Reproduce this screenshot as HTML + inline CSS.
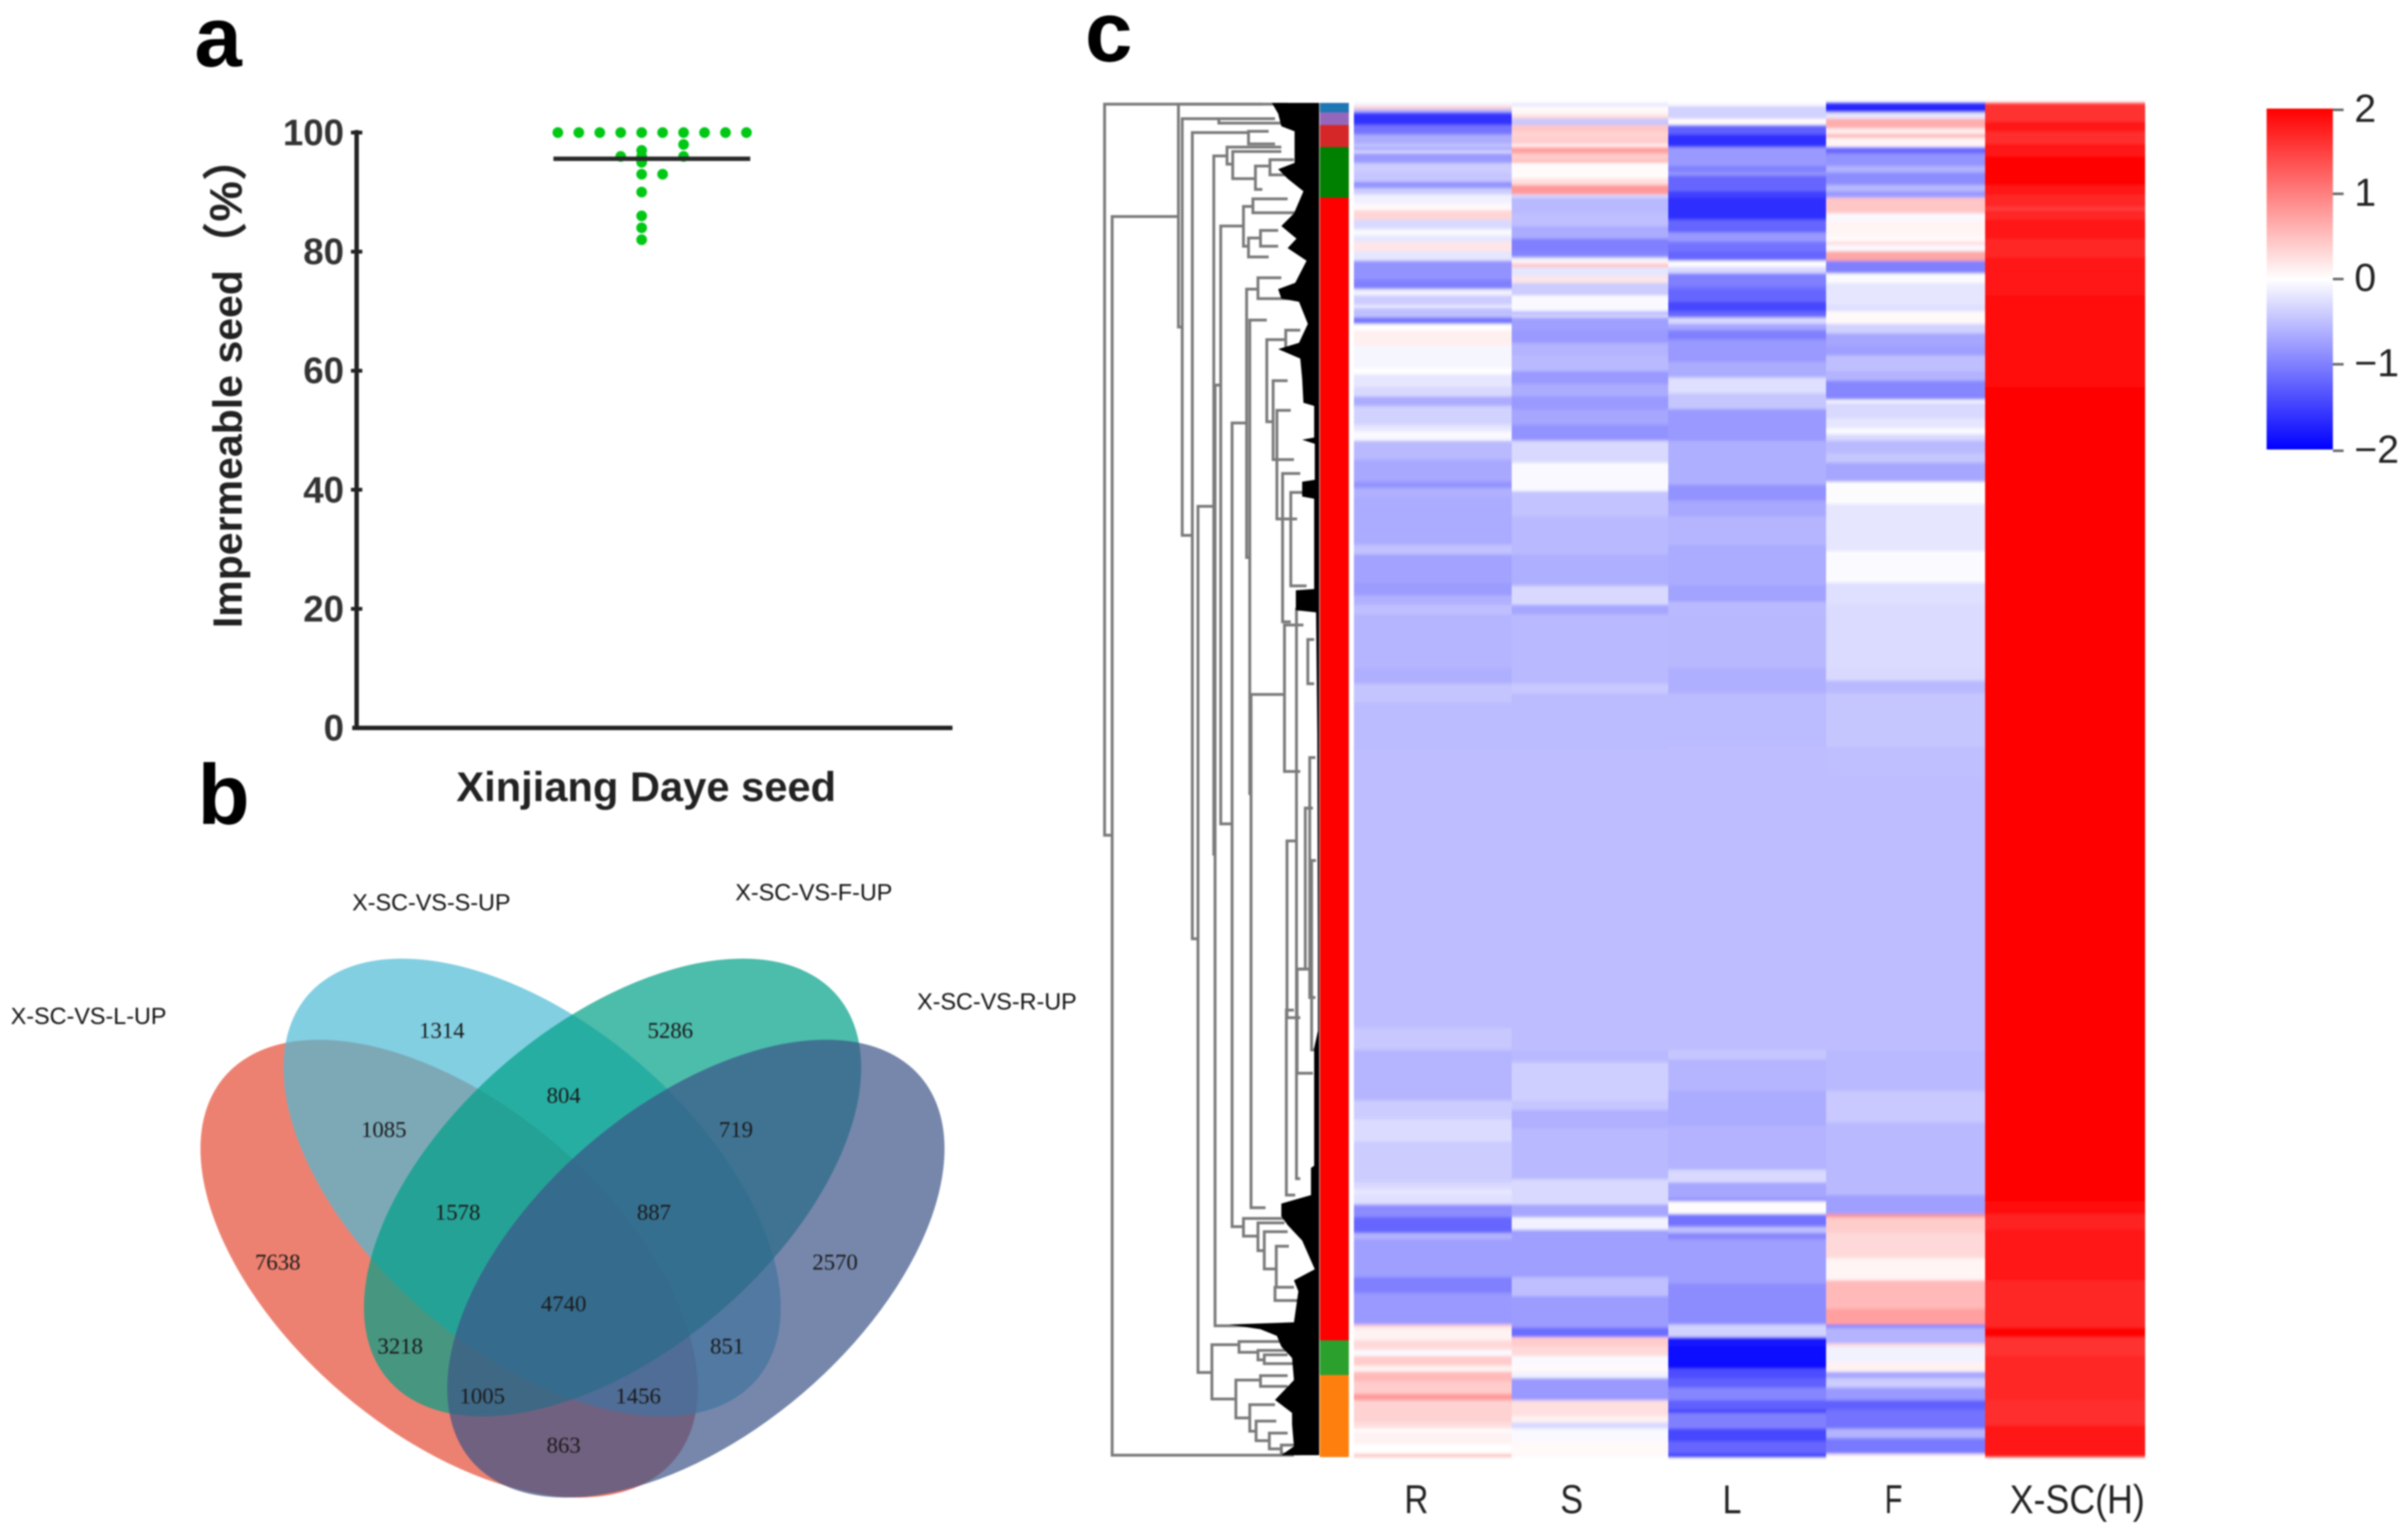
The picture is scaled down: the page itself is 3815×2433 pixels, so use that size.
<!DOCTYPE html>
<html lang="en">
<head>
<meta charset="utf-8">
<title>Impermeable seed, Venn diagram and expression heatmap</title>
<style>
html,body{margin:0;padding:0;background:#fff;width:3815px;height:2433px;overflow:hidden}
svg{display:block;filter:blur(1.3px)}
text{font-family:"Liberation Sans",Arial,sans-serif}
.venn-num{font-family:"Liberation Serif","Times New Roman",serif;font-size:36px;fill:#1a1a1a;text-anchor:middle}
.venn-set{font-size:37px;fill:#111}
.panel{font-size:135px;font-weight:bold;fill:#000}
</style>
</head>
<body>
<svg id="figure" xmlns="http://www.w3.org/2000/svg" width="3815" height="2433" viewBox="0 0 3815 2433">
<defs>
<linearGradient id="cbar" x1="0" y1="0" x2="0" y2="1">
<stop offset="0" stop-color="#ff0000"/><stop offset="0.5" stop-color="#ffffff"/><stop offset="1" stop-color="#0000ff"/>
</linearGradient>
<filter id="vblur" x="0" y="-2%" width="100%" height="104%"><feGaussianBlur stdDeviation="0 2.5"/></filter>
</defs>
<rect width="3815" height="2433" fill="#fff"/>
<text class="panel" x="308" y="105">a</text>
<text class="panel" x="313" y="1305">b</text>
<text class="panel" x="1719" y="97">c</text>

<g id="scatter"></g>
<text transform="translate(383,995) rotate(-90)" font-size="65" font-weight="bold" fill="#222">Impermeable seed</text>
<text transform="translate(383,319) rotate(-90)" font-size="72" font-weight="bold" fill="#222" text-anchor="middle" style="font-family:'Liberation Sans','Noto Sans CJK SC',sans-serif">（%）</text>
<text x="723" y="1269" font-size="66" font-weight="bold" fill="#222">Xinjiang Daye seed</text>

<g>
<ellipse cx="711.5" cy="2009.5" rx="468" ry="260" transform="rotate(40.5 711.5 2009.5)" fill="#E64B35" fill-opacity="0.7"/>
<ellipse cx="843" cy="1881" rx="468" ry="260" transform="rotate(40.5 843 1881)" fill="#4DBBD5" fill-opacity="0.7"/>
<ellipse cx="970.5" cy="1881" rx="468" ry="260" transform="rotate(-40.5 970.5 1881)" fill="#00A087" fill-opacity="0.7"/>
<ellipse cx="1102.5" cy="2009.5" rx="468" ry="260" transform="rotate(-40.5 1102.5 2009.5)" fill="#3C5488" fill-opacity="0.7"/>
<text class="venn-set" x="17" y="1622">X-SC-VS-L-UP</text>
<text class="venn-set" x="558" y="1442">X-SC-VS-S-UP</text>
<text class="venn-set" x="1165" y="1426">X-SC-VS-F-UP</text>
<text class="venn-set" x="1453" y="1599">X-SC-VS-R-UP</text>
<text class="venn-num" x="700" y="1644">1314</text>
<text class="venn-num" x="1062" y="1644">5286</text>
<text class="venn-num" x="893" y="1747">804</text>
<text class="venn-num" x="608" y="1801">1085</text>
<text class="venn-num" x="1166" y="1801">719</text>
<text class="venn-num" x="725" y="1932">1578</text>
<text class="venn-num" x="1036" y="1932">887</text>
<text class="venn-num" x="440" y="2011">7638</text>
<text class="venn-num" x="1323" y="2011">2570</text>
<text class="venn-num" x="893" y="2077">4740</text>
<text class="venn-num" x="634" y="2144">3218</text>
<text class="venn-num" x="1152" y="2144">851</text>
<text class="venn-num" x="764" y="2223">1005</text>
<text class="venn-num" x="1011" y="2223">1456</text>
<text class="venn-num" x="893" y="2301">863</text>
</g>

<g id="dendrogram"></g>
<g id="annotation"></g>
<g id="heatmap" filter="url(#vblur)"></g>
<g id="heatlabels"></g>

<g>
<rect x="3591" y="172" width="105" height="540" fill="url(#cbar)"/>
<g id="cbarticks"></g>
</g>
</svg>
<script>
// ---- panel a: dot plot data ----
const seedValues = [100,100,100,100,100,100,100,100,100,100,98,96,96,97,96,95,93,90,86,84,82,93];
const seedSlots  = [-4,-3,-2,-1,0,1,2,3,4,5,2,2,-1,0,0,0,0,0,0,0,0,1];
const seedMean = 95.6;
const yTickLabels = [0,20,40,60,80,100];

// ---- panel c: heatmap data, each column is [gene rows, z-score] runs ----
const heatColumns = ['R','S','L','F','X-SC(H)'];
const seriesR = [[1,-.1],[1,.35],[1,-.6],[4,-1.6],[3,-1.1],[3,-.65],[1,-.45],[1,-.7],[1,-.3],[3,-.8],[3,-.4],[3,-.45],[2,-.85],[2,-.4],[3,-.12],[2,.05],[3,.32],[3,-.3],[2,-.05],[2,-.2],[3,.2],[3,-.2],[6,-.85],[3,-1],[2,-.1],[3,-.4],[1,-.15],[3,-.5],[2,-1.1],[2,0],[5,.12],[7,-.07],[2,0],[4,-.2],[3,-.3],[3,-.65],[6,-.35],[2,-.2],[3,-.05],[6,-.55],[7,-.68],[2,-.85],[3,-.62],[15,-.66],[3,-.48],[9,-.72],[4,-.78],[3,-.62],[3,-.5],[17,-.58],[5,-.63],[6,-.46],[15,-.53],[88,-.52],[7,-.43],[16,-.58],[6,-.4],[7,-.28],[13,-.4],[2,-.3],[2,-.2],[3,-.25],[4,-.9],[5,-1.2],[2,-.6],[12,-.75],[5,-1],[10,-.8],[1,.35],[4,.1],[3,.3],[2,-.05],[3,.4],[2,.1],[3,.55],[4,.4],[2,.8],[7,.35],[2,.25],[1,0],[4,.1],[3,0],[1,.5]];
const seriesS = [[1,-.2],[2,.05],[1,.1],[1,.3],[2,-.45],[2,.45],[2,.35],[2,.4],[1,.1],[2,.75],[2,.4],[1,.55],[5,.03],[2,.25],[3,.8],[1,-.3],[5,-.55],[4,-.5],[4,-.65],[4,-1],[2,-.95],[1,-.1],[1,.1],[1,.5],[3,-.2],[2,.2],[4,-.4],[5,-.05],[1,-.6],[1,-.3],[4,-.75],[4,-.8],[4,-.6],[5,-.55],[4,-.8],[4,-.65],[4,-.8],[5,-.7],[5,-.85],[7,-.3],[9,-.05],[8,-.47],[12,-.55],[10,-.63],[6,-.3],[3,-.7],[22,-.55],[3,-.42],[18,-.53],[95,-.52],[4,-.55],[12,-.38],[3,-.45],[6,-.62],[16,-.55],[8,-.3],[4,-.7],[4,-.1],[15,-.75],[6,-.5],[10,-.78],[3,-1.15],[3,.4],[3,.3],[3,-.05],[2,.05],[2,-.1],[7,-.8],[5,.25],[2,.1],[2,-.3],[4,-.05],[5,.05]];
const seriesL = [[1,-.05],[4,-.35],[2,.03],[3,-1.25],[4,-1.65],[6,-.8],[2,-1],[1,-.8],[5,-1.2],[2,-1.5],[7,-1.65],[3,-1.2],[1,-1.25],[3,-.8],[3,-1.1],[3,-1.2],[2,-.02],[2,-.3],[4,-1],[1,-1.1],[4,-1.2],[3,-1.45],[2,-1.2],[2,-.3],[2,-.7],[3,-1],[7,-.8],[5,-.65],[5,-.25],[5,-.45],[10,-.8],[14,-.63],[5,-.85],[5,-.68],[9,-.58],[13,-.66],[5,-.73],[4,-.55],[17,-.56],[8,-.63],[17,-.53],[96,-.52],[3,-.45],[10,-.58],[11,-.66],[14,-.6],[4,-.3],[5,-.7],[1,-.9],[4,.02],[4,-1.1],[2,-.5],[2,-.95],[14,-.75],[13,-.9],[4,-.35],[3,-1.8],[7,-1.9],[3,-1.4],[3,-1.25],[4,-.95],[3,-1.25],[1,-1.5],[5,-1],[4,-1.45],[4,-1.2],[1,-1.6]];
const seriesF = [[3,-1.7],[2,-.2],[3,.65],[2,.15],[1,.65],[3,.08],[2,-1.2],[4,-.85],[2,-.6],[4,-.9],[2,-.55],[2,-.8],[5,.45],[2,-.05],[5,.08],[2,.05],[1,.3],[2,-.05],[3,.7],[4,-1],[3,-.03],[7,-.2],[2,-.25],[4,.05],[3,-.35],[4,-.7],[3,-.75],[5,-.5],[3,-.6],[6,-.95],[1,-.05],[5,-.3],[3,-.2],[2,-.05],[2,-.3],[4,-.55],[3,-.45],[6,-.7],[7,-.02],[15,-.2],[10,-.03],[7,-.25],[20,-.28],[4,-.3],[4,-.55],[17,-.45],[10,-.5],[86,-.52],[13,-.55],[10,-.42],[23,-.55],[6,-.75],[1,.9],[5,.4],[8,.3],[7,.08],[9,.55],[5,.75],[1,-1],[5,-.6],[1,.3],[5,-.1],[3,.1],[2,-.7],[3,-.4],[4,-.8],[3,-1.25],[6,-1.1],[3,-.6],[5,-1.05],[1,.1]];
const seriesH = [[6,1.6],[3,1.8],[4,1.65],[4,1.8],[9,1.95],[3,1.8],[4,1.7],[1,1.5],[3,1.7],[6,1.85],[6,1.7],[12,1.85],[10,1.9],[19,1.93],[258,2],[4,1.9],[5,1.75],[16,1.85],[15,1.7],[3,1.95],[6,1.6],[14,1.7],[8,1.65],[10,1.85]];

const clusterSizes  = [3,4,7,16,362,11,26];
const clusterColors = ['#1f77b4','#9467bd','#d62728','#008000','#ff0000','#2ca02c','#ff7f0e'];
const colorbarTicks = [2,1,0,-1,-2];

// ---- dendrogram: [height, topRow, bottomRow, topChildHeight, bottomChildHeight] ----
const merges = [
[340,.4,232,90,328],[328,36,428.4,223,40],[223,.4,71,50,217],[217,5,137,159,201],[201,9.4,264.8,112,192],
[192,127.8,402.2,167,170],[170,393.4,410.6,127,132],[167,16.8,238,146,165],[165,89.4,387.4,156,90],[156,39,228.4,120,138],
[138,101.4,356,115,120],[115,59,144,97,110],[110,68.8,218.8,83,108],[108,187.4,350,55,85],[83,75,101,53,73],
[73,88,113,50,40],[67,97.4,131.8,45,35],[58,117.4,164.4,30,45],[55,165.4,211.8,25,30],[51,233.8,289.8,37,30],
[52,287.4,346,40,38],[45,123.4,153,25,20],[36,160.4,340.8,10,30],[18,170,184,8,8],[22,223.4,274.4,10,35],
[35,274.4,307.4,10,10],[15,207.4,283.4,6,6],[12,240,300,5,5],
[159,5,6.4,70,50],[112,9,13,80,70],[146,14,19.4,60,137],[137,15.4,24,60,101],[101,20,27.4,78,90],[78,18,22.8,40,40],
[120,32.8,45.4,105,112],[105,30.4,34.8,50,30],[112,42.8,48.8,93,80],[93,40.4,45.4,65,65],[97,55.4,62,60,40],[53,72,78,30,30],
[127,392.4,395.8,60,97],[97,395.2,398.2,50,87],[87,396.6,399.4,50,40],[132,404.6,416.6,93,110],[93,403.2,406.6,50,50],
[110,412.4,420.8,70,100],[100,417.6,423.8,68,79],[79,421.4,426.4,50,60],[60,425.2,428,30,30],
[120,353.4,359,50,97],[97,354.8,363.6,55,87],[87,357.6,369.4,50,68],[68,362.2,374.4,48,70],[70,375.2,379.4,40,30]
];
// depth of the dense unresolved leaf branches per row
const leafRows  = [0,3.4,7.4,9,19,21,24,28,35,39,43,46,50,57,59,62,63,70,76,78,81,87.4,95,96,106,106.7,108,119.4,120,124.7,125.4,154,154.4,160.7,161.4,200,267,294,299.4,336.7,337.4,346,348.7,352.7,355.5,360.4,369.5,373,376.5,386.3,387,388.5,390.6,394,397.6,404.6,410.9,415,418.6,425.6,428.4];
const leafDepth = [75,65,60,39,39,65,50,25,40,60,36,50,20,38,65,60,32,18,32,65,30,27,25,8,8,27,7,7,27,27,8,8,37,37,5,3,2,2,8,8,13,13,60,60,50,27,7,40,33,40,143,93,67,60,43,40,70,43,43,40,60];

// ---- axis functions ----
const NS = 'http://www.w3.org/2000/svg';
const yPct = v => 1153 - v * 9.43;
const xSlot = s => 1016.6 + s * 33.2;
const ROW_TOP = 163, ROW_H = 5;
const yRow = r => ROW_TOP + r * ROW_H;
const xDist = d => 2090 - d;
const colEdges = [2145,2395,2643,2893,3145,3398];
function heatColor(v){
  const t = Math.min(1, Math.abs(v) / 2);
  const c = Math.round(255 * (1 - t));
  return v >= 0 ? 'rgb(255,' + c + ',' + c + ')' : 'rgb(' + c + ',' + c + ',255)';
}
const yBar = v => 444 - v * 135;
function mk(tag, attrs, parent){
  const el = document.createElementNS(NS, tag);
  for (const k in attrs) el.setAttribute(k, attrs[k]);
  parent.appendChild(el);
  return el;
}

// ---- scatter ----
const gS = document.getElementById('scatter');
const yAxis = mk('line', {x1:565, x2:565, y1:yPct(100)-4, y2:yPct(0)+3, stroke:'#222', 'stroke-width':7}, gS);


const xAxis = mk('line', {x1:558, x2:1509, y1:yPct(0), y2:yPct(0), stroke:'#222', 'stroke-width':7}, gS);


yTickLabels.forEach(function(t){
  if (t > 0) {
    const tk = mk('line', {x1:556, x2:574, y1:yPct(t), y2:yPct(t), stroke:'#222', 'stroke-width':6}, gS);
    
    
  }
  const lb = mk('text', {x:545, y:yPct(t)+20, 'text-anchor':'end', 'font-size':58, 'font-weight':'bold', fill:'#333'}, gS);
  lb.textContent = t;
  
  
});
seedValues.forEach(function(v, i){
  const dot = mk('circle', {cx:xSlot(seedSlots[i]), cy:yPct(v), r:8.5, fill:'#00c814'}, gS);
  
  
});
const meanLine = mk('line', {x1:xSlot(-4)-7, x2:xSlot(5)+6, y1:yPct(seedMean), y2:yPct(seedMean), stroke:'#2a2a2a', 'stroke-width':7}, gS);



// ---- dendrogram ----
const gD = document.getElementById('dendrogram');
merges.forEach(function(m){
  const x = xDist(m[0]), y1 = yRow(m[1]), y2 = yRow(m[2]);
  const p = mk('path', {d:'M' + xDist(m[3]) + ' ' + y1 + 'H' + x + 'V' + y2 + 'H' + xDist(m[4]), fill:'none', stroke:'#7a7a7a', 'stroke-width':4.5}, gD);
  
  
});
let massPts = xDist(0) + ',' + yRow(leafRows[0]);
leafRows.forEach(function(r, i){ massPts += ' ' + xDist(leafDepth[i]) + ',' + yRow(r); });
massPts += ' ' + xDist(0) + ',' + yRow(leafRows[leafRows.length - 1]);
const mass = mk('polygon', {points:massPts, fill:'#000'}, gD);



// ---- cluster annotation ----
const gA = document.getElementById('annotation');
let annRow = 0;
clusterSizes.forEach(function(n, i){
  const r = mk('rect', {x:2091, y:yRow(annRow), width:46, height:n * ROW_H, fill:clusterColors[i]}, gA);
  
  
  annRow += n;
});

// ---- heatmap ----
const gH = document.getElementById('heatmap');
[seriesR, seriesS, seriesL, seriesF, seriesH].forEach(function(runs, c){
  let row = 0;
  runs.forEach(function(run){
    const cell = mk('rect', {x:colEdges[c], y:yRow(row), width:colEdges[c + 1] - colEdges[c] + 0.5, height:run[0] * ROW_H, fill:heatColor(run[1])}, gH);
    
    
    row += run[0];
  });
});

// ---- column labels ----
const gL = document.getElementById('heatlabels');
const labelOffset = [-26, -29, -24, -19, 19.5];
const labelWidth = [38, 36, 30, 28, 214];
heatColumns.forEach(function(name, i){
  const t = mk('text', {x:(colEdges[i] + colEdges[i + 1]) / 2 + labelOffset[i], y:2397, 'text-anchor':'middle', 'font-size':64, fill:'#222', textLength:labelWidth[i], lengthAdjust:'spacingAndGlyphs'}, gL);
  t.textContent = name;
  
  
});

// ---- colorbar ticks ----
const gC = document.getElementById('cbarticks');
colorbarTicks.forEach(function(v){
  const y = v === 2 ? 174 : (v === -2 ? 714 : yBar(v) - 2);
  const tk = mk('line', {x1:3696, x2:3713, y1:y, y2:y, stroke:'#666', 'stroke-width':4}, gC);
  
  
  const lb = mk('text', {x:3730, y:y + 19, 'font-size':62, fill:'#222'}, gC);
  lb.textContent = v < 0 ? '\u2212' + Math.abs(v) : String(v);
  
  
});
</script>
</body>
</html>
